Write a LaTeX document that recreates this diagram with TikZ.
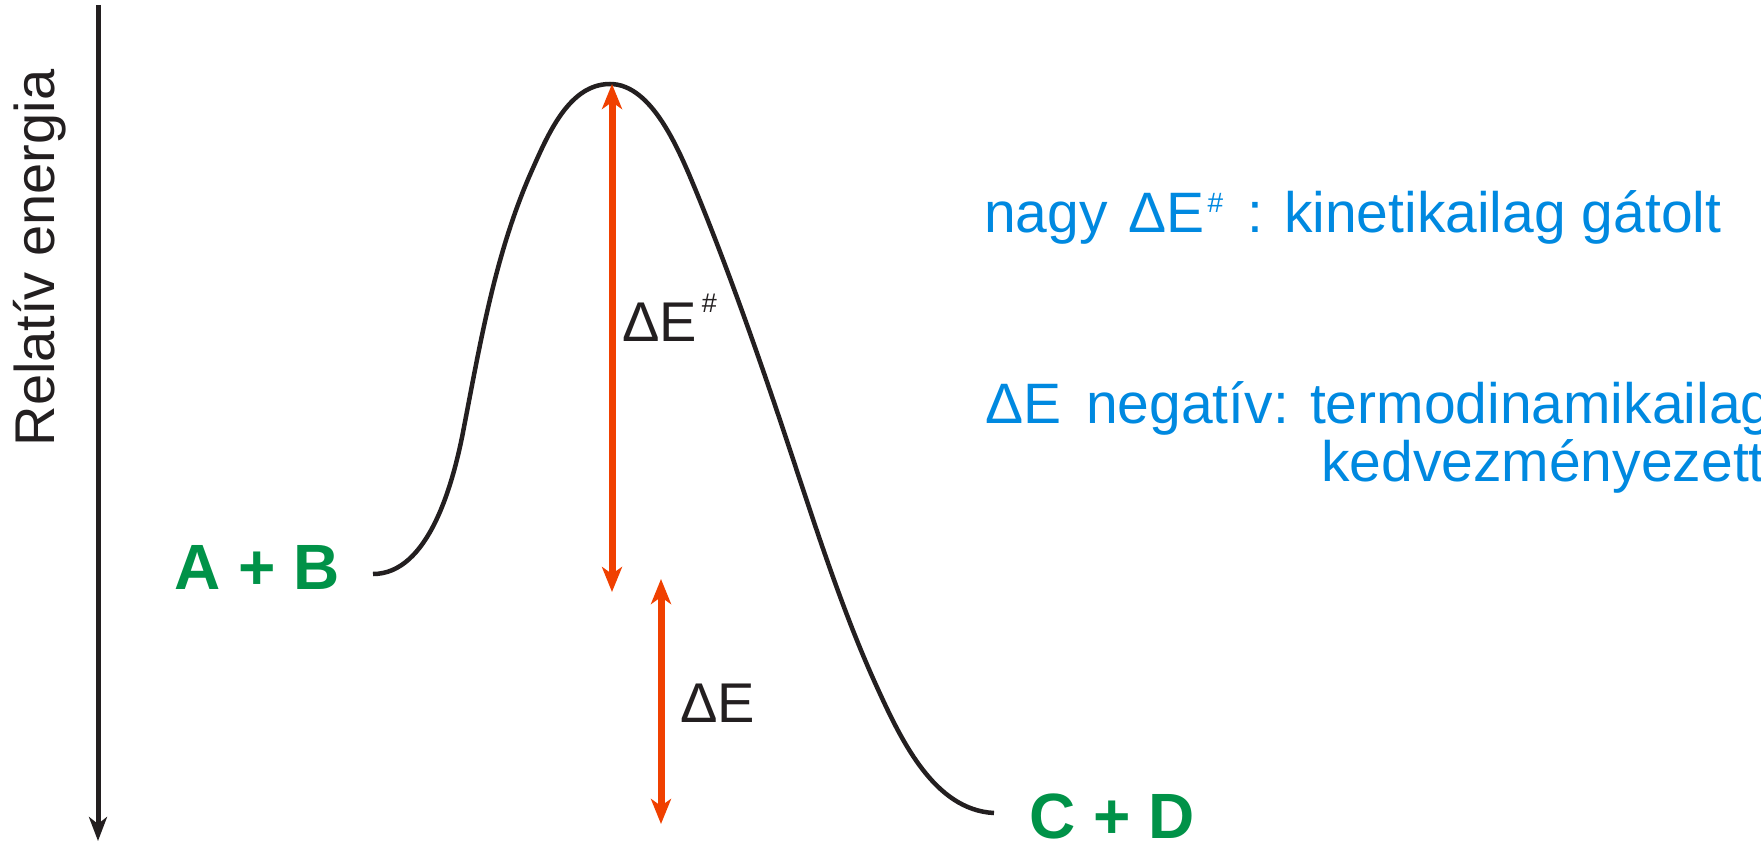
\documentclass[tikz,border=0pt]{standalone}
\usepackage{fontspec}
\setmainfont{Liberation Sans}
\usetikzlibrary{arrows.meta}
\definecolor{inkblack}{RGB}{35,31,32}
\definecolor{arrred}{RGB}{240,64,0}
\definecolor{prodgreen}{RGB}{0,146,72}
\definecolor{noteblue}{RGB}{0,137,224}
\tikzset{
  redtip/.tip={Stealth[length=25pt,width=20pt,inset=7pt]},
  axistip/.tip={Stealth[length=24pt,width=18pt,inset=7pt]},
  redarrow/.style={draw=arrred, line width=7pt, redtip-redtip},
  axisline/.style={draw=inkblack, line width=5pt, -axistip},
  curveline/.style={draw=inkblack, line width=4.5pt},
  species/.style={inner sep=0pt, anchor=base west, text=prodgreen,
    font=\fontsize{64}{70}\selectfont\bfseries},
  elabel/.style={inner sep=0pt, anchor=base west, text=inkblack,
    font=\fontsize{56}{62}\selectfont},
  note/.style={inner sep=0pt, anchor=base west, text=noteblue,
    font=\fontsize{57}{62}\selectfont},
  axislabel/.style={inner sep=0pt, anchor=base, rotate=90, text=inkblack,
    font=\fontsize{56}{62}\selectfont},
}
\newcommand{\supsharp}[2]{\raisebox{#2}{\fontsize{#1}{#1}\selectfont\#}}
\begin{document}
\begin{tikzpicture}[x=1pt,y=-1pt]
\useasboundingbox (0,0) rectangle (1761,843);
\clip (0,0) rectangle (1761,843);

% axis
\coordinate (axtop) at (98,5);
\coordinate (axbot) at (98,841);
\draw[axisline] (axtop) -- (axbot);
\node[axislabel] (ylab) at (54,258) {Relatív energia};

% energy profile
\draw[curveline] (373,574)
  .. controls (428,574) and (453,486) .. (464,427)
  .. controls (481,339) and (496,250) .. (533,168)
  .. controls (549,132) and (570,84) .. (610,84)
  .. controls (652,84) and (679,150) .. (696,191)
  .. controls (728,269) and (759,357) .. (786,438)
  .. controls (813,519) and (841,608) .. (876,685)
  .. controls (901,740) and (934,810) .. (994,813);

% species
\node[species] (ab) at (174,589) {A + B};
\node[species] (cd) at (1029,838) {C + D};

% arrows
\coordinate (peak) at (612,84);
\coordinate (ablevel) at (612,592);
\coordinate (detop) at (661,579);
\coordinate (debot) at (661,824);
\draw[redarrow] (ablevel) -- (peak);
\draw[redarrow] (detop) -- (debot);

\node[elabel] (dea) at (622,341) {ΔE\hspace{5pt}\supsharp{27}{29pt}};
\node[elabel] (de) at (680,722) {ΔE};

% notes
\node[note] (n1) at (984,232) {nagy\hspace{5pt} ΔE\hspace{3pt}\supsharp{28}{20pt}\hspace{8pt} : kinetikailag gátolt};
\node[note] (n2) at (985,423) {ΔE\hspace{9pt} negatív: termodinamikailag};
\node[note] (n3) at (1321,481) {kedvezményezett};
\end{tikzpicture}
\end{document}
